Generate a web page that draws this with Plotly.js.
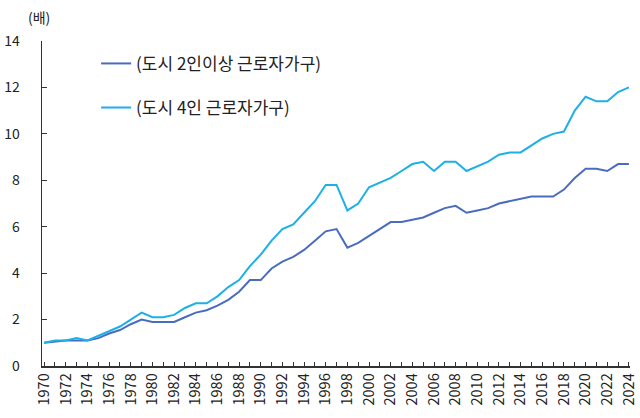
<!DOCTYPE html>
<html>
<head>
<meta charset="utf-8">
<script src="https://cdn.plot.ly/plotly-3.0.1.min.js"></script>
<style>html,body{margin:0;padding:0;background:#fff;}#chart{width:640px;height:418px;}</style>
</head>
<body>
<div id="chart"></div>
<script>
const years = [];
for (let y = 1970; y <= 2024; y++) years.push(y);

const seriesNames = ['(도시 2인이상 근로자가구)', '(도시 4인 근로자가구)'];

const twoPlus = [1.0,1.05,1.1,1.1,1.1,1.2,1.4,1.55,1.8,2.0,
  1.9,1.9,1.9,2.1,2.3,2.4,2.6,2.85,3.2,3.7,
  3.7,4.2,4.5,4.7,5.0,5.4,5.8,5.9,5.1,5.3,
  5.6,5.9,6.2,6.2,6.3,6.4,6.6,6.8,6.9,6.6,
  6.7,6.8,7.0,7.1,7.2,7.3,7.3,7.3,7.6,8.1,
  8.5,8.5,8.4,8.7,8.7];

const four = [1.0,1.1,1.1,1.2,1.1,1.3,1.5,1.7,2.0,2.3,
  2.1,2.1,2.2,2.5,2.7,2.7,3.0,3.4,3.7,4.3,
  4.8,5.4,5.9,6.1,6.6,7.1,7.8,7.8,6.7,7.0,
  7.7,7.9,8.1,8.4,8.7,8.8,8.4,8.8,8.8,8.4,
  8.6,8.8,9.1,9.2,9.2,9.5,9.8,10.0,10.1,11.0,
  11.6,11.4,11.4,11.8,12.0];

const yTicks = [0,2,4,6,8,10,12,14];
const xTickText = years.map(y => (y % 2 === 0 ? String(y) : ''));

const font = "'Noto Sans CJK KR', 'Noto Sans', sans-serif";

const traces = [
  {x: years, y: twoPlus, name: seriesNames[0], type: 'scatter', mode: 'lines',
   line: {color: '#4a6cc0', width: 2}, legendgroup: 'a'},
  {x: years, y: four, name: seriesNames[1], type: 'scatter', mode: 'lines',
   line: {color: '#1db0e6', width: 2}, legendgroup: 'b'}
];

const layout = {
  width: 640, height: 418,
  margin: {l: 42, r: 10, t: 41, b: 52},
  paper_bgcolor: '#fff', plot_bgcolor: '#fff',
  font: {family: font, size: 13, color: '#222'},
  showlegend: true,
  legend: {x: 0.092, y: 0.985, xanchor: 'left', yanchor: 'top',
    font: {family: font, size: 17, color: '#222'},
    itemwidth: 30, tracegroupgap: 19, traceorder: 'grouped',
    bgcolor: 'rgba(0,0,0,0)'},
  xaxis: {
    range: [1969.8, 2024.1],
    tickmode: 'array', tickvals: years, ticktext: xTickText,
    tickangle: -90, ticks: 'inside', ticklen: 4, tickcolor: '#333',
    showline: true, linecolor: '#333', linewidth: 1.5,
    showgrid: false, zeroline: false, ticklabeloverflow: 'allow',
    tickfont: {family: font, size: 14.5, color: '#222'}
  },
  yaxis: {
    range: [0, 14],
    tickmode: 'array', tickvals: yTicks,
    ticks: 'inside', ticklen: 5, tickcolor: '#333',
    showline: true, linecolor: '#333', linewidth: 1.5,
    showgrid: false, zeroline: false,
    tickfont: {family: font, size: 14, color: '#222'},
    ticklabelstandoff: 18
  },
  annotations: [
    {text: '(배)', xref: 'paper', yref: 'paper', x: -0.005, y: 1.0, yshift: 24,
     xanchor: 'center', yanchor: 'middle', showarrow: false,
     font: {family: font, size: 14, color: '#222'}}
  ]
};

Plotly.newPlot('chart', traces, layout, {displayModeBar: false, staticPlot: true});
</script>
</body>
</html>
